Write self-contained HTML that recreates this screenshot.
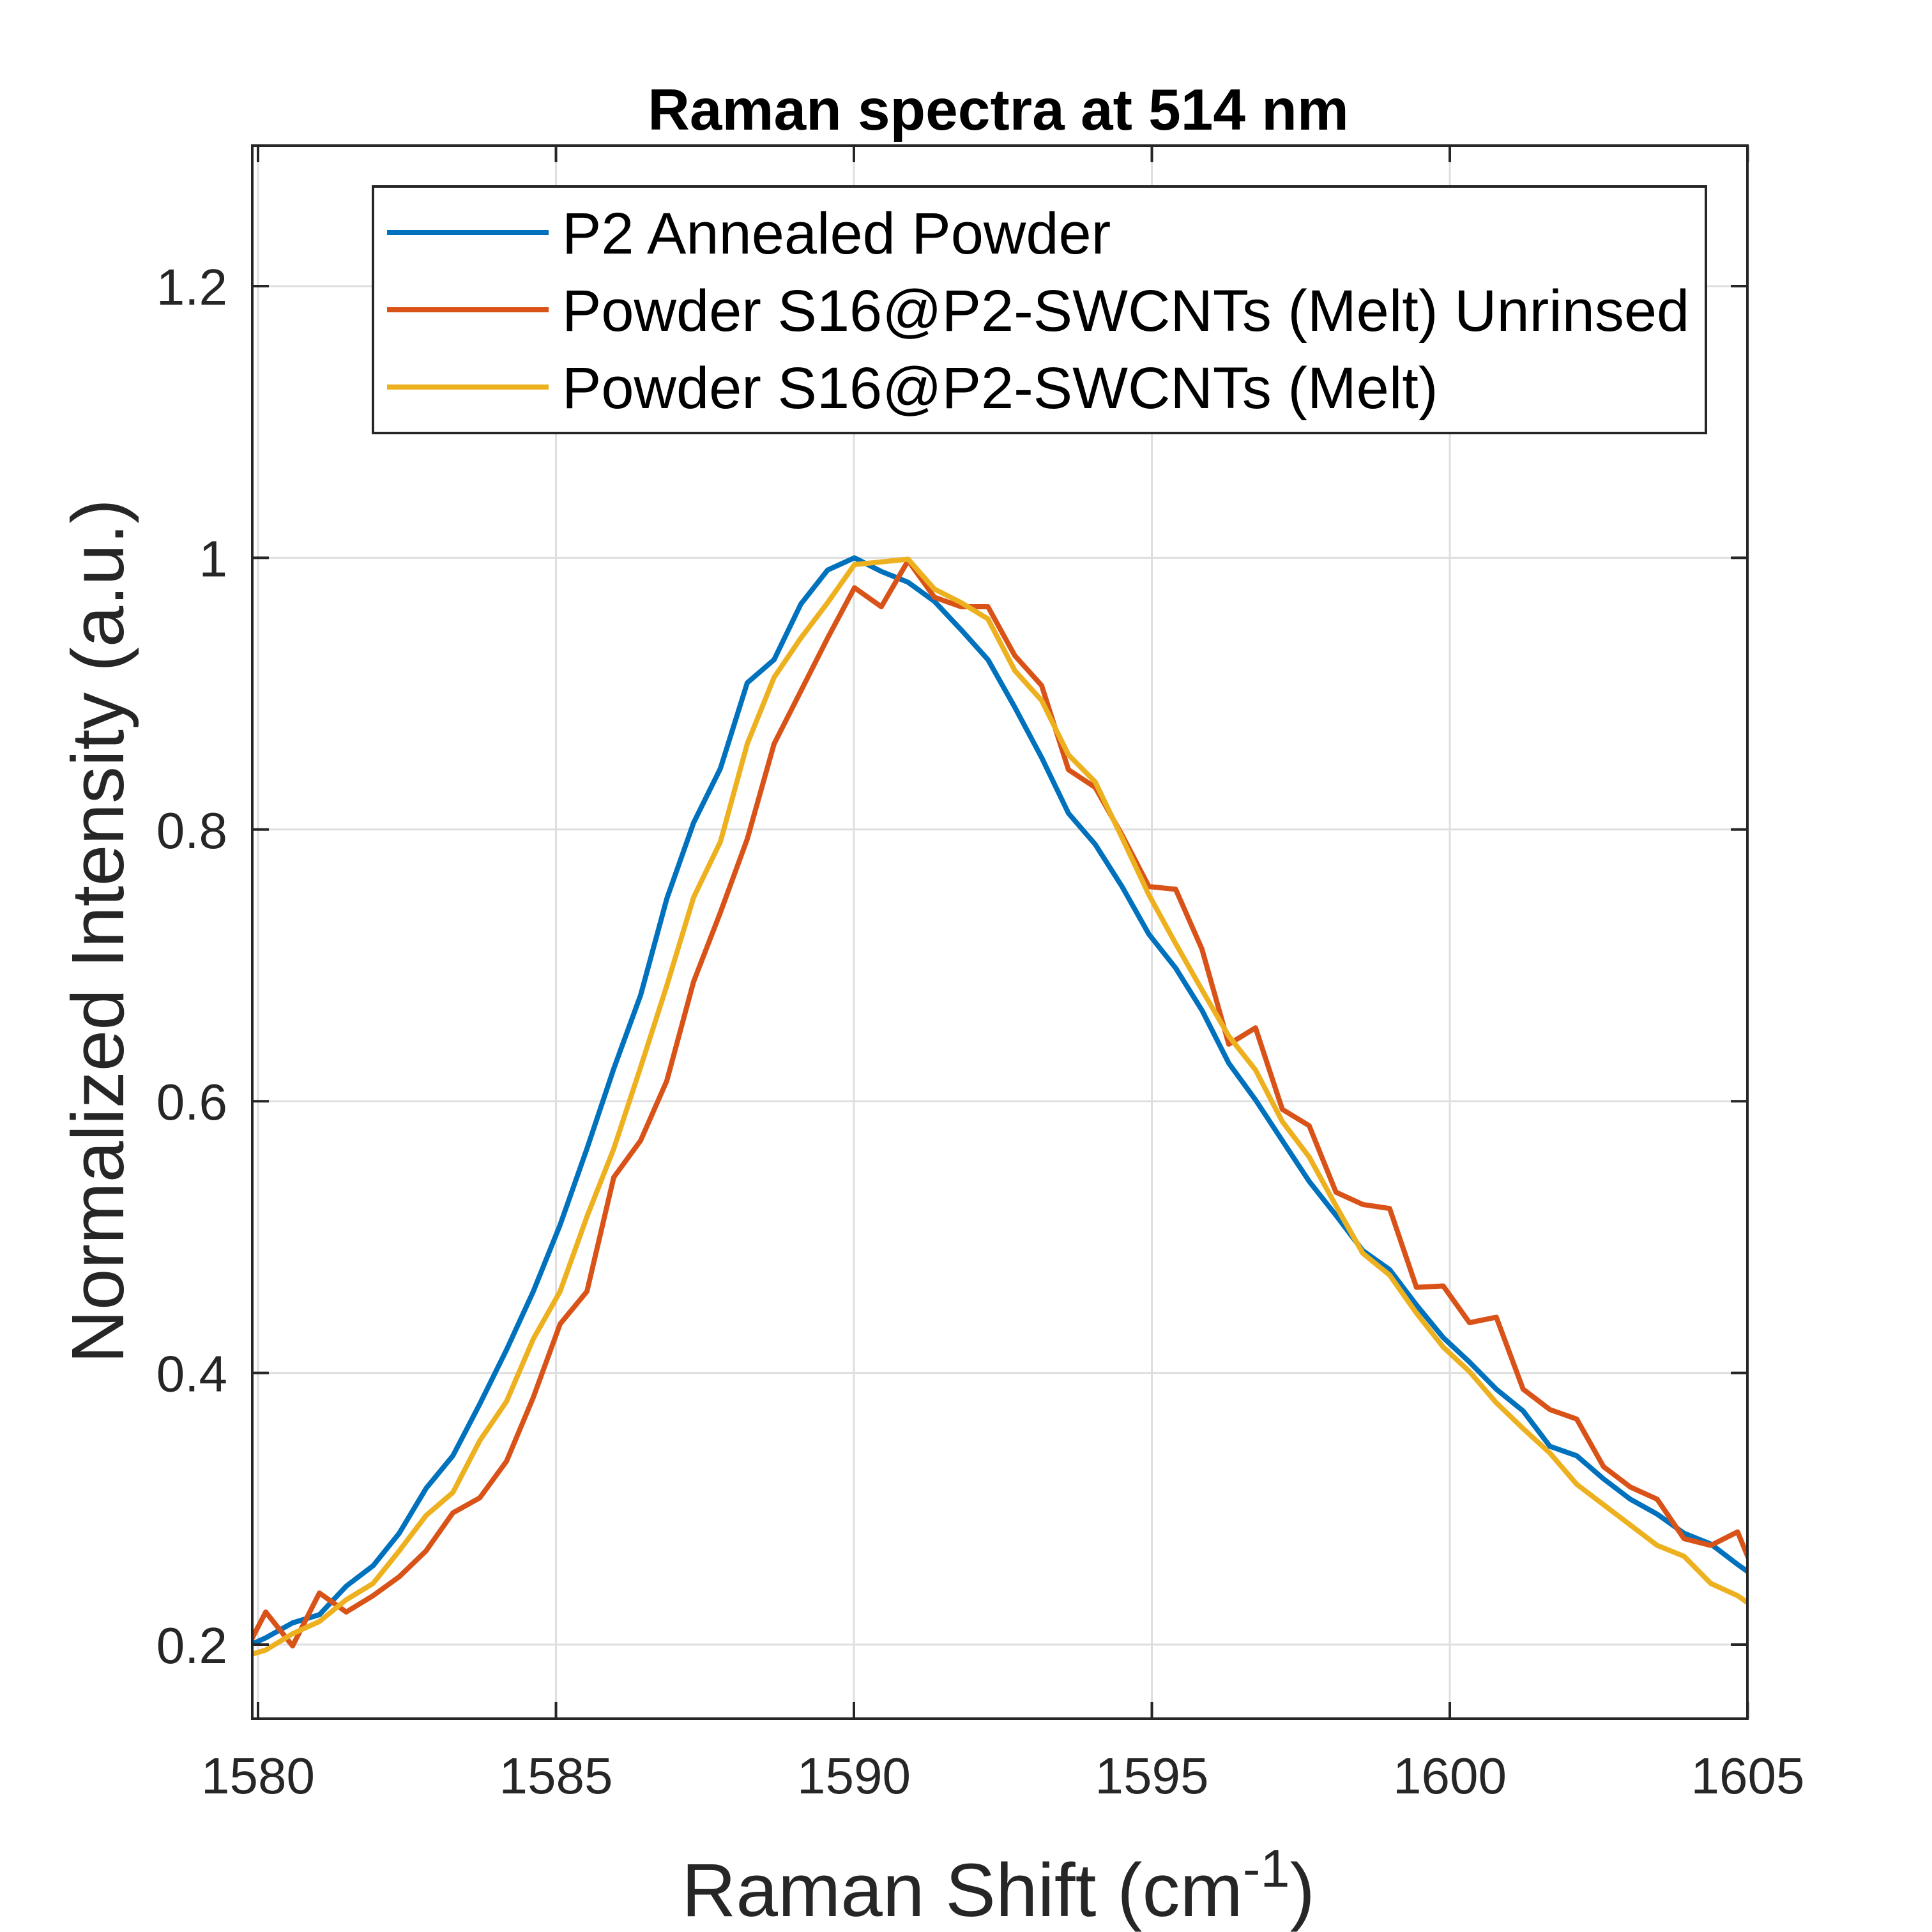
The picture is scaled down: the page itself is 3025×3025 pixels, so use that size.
<!DOCTYPE html>
<html><head><meta charset="utf-8"><style>
html,body{margin:0;padding:0;background:#fff}
svg{display:block}
text{font-family:"Liberation Sans",Arial,sans-serif;fill:#262626}
</style></head><body>
<svg id="chart" width="3025" height="3025" viewBox="0 0 3025 3025" xmlns="http://www.w3.org/2000/svg">
<rect x="0" y="0" width="3025" height="3025" fill="#fff"/>
<defs><clipPath id="plotclip"><rect x="395" y="228" width="2341" height="2463"/></clipPath></defs>
<g id="grid"></g>
<g id="series" clip-path="url(#plotclip)"></g>
<rect x="395" y="228" width="2341" height="2463" fill="none" stroke="#262626" stroke-width="4"/>
<g id="ticks"></g>
<text x="1563" y="203" text-anchor="middle" font-size="91" font-weight="bold" style="fill:#000">Raman spectra at 514 nm</text>
<text x="1563" y="3000" text-anchor="middle" font-size="118">Raman Shift (cm<tspan dy="-46" font-size="83">-1</tspan><tspan dy="46">)</tspan></text>
<text x="0" y="0" transform="translate(193,1458) rotate(-90)" text-anchor="middle" font-size="116">Normalized Intensity (a.u.)</text>
<g>
<rect x="584" y="292" width="2087" height="386" fill="#fff" stroke="#262626" stroke-width="4"/>
<g><line x1="606" y1="364" x2="859" y2="364" stroke="#0072BD" stroke-width="8"/><text x="880" y="397" font-size="92" style="fill:#000">P2 Annealed Powder</text></g>
<g><line x1="606" y1="485" x2="859" y2="485" stroke="#D95319" stroke-width="8"/><text x="880" y="518" font-size="92" style="fill:#000">Powder S16@P2-SWCNTs (Melt) Unrinsed</text></g>
<g><line x1="606" y1="606" x2="859" y2="606" stroke="#EDB120" stroke-width="8"/><text x="880" y="639" font-size="92" style="fill:#000">Powder S16@P2-SWCNTs (Melt)</text></g>
</g>
</svg>
<script>
const xValues = [1579.68,1580.13,1580.58,1581.03,1581.48,1581.93,1582.37,1582.82,1583.27,1583.72,1584.17,1584.62,1585.07,1585.52,1585.97,1586.42,1586.86,1587.31,1587.76,1588.21,1588.66,1589.11,1589.56,1590.01,1590.46,1590.91,1591.35,1591.80,1592.25,1592.70,1593.15,1593.60,1594.05,1594.50,1594.95,1595.40,1595.84,1596.29,1596.74,1597.19,1597.64,1598.09,1598.54,1598.99,1599.44,1599.89,1600.33,1600.78,1601.23,1601.68,1602.13,1602.58,1603.03,1603.48,1603.93,1604.38,1604.83,1605.28];
const blueValues = [0.196,0.205,0.216,0.222,0.243,0.258,0.282,0.315,0.339,0.377,0.417,0.460,0.509,0.565,0.624,0.678,0.749,0.805,0.845,0.908,0.925,0.966,0.991,1.000,0.990,0.982,0.968,0.947,0.925,0.890,0.853,0.812,0.789,0.758,0.723,0.698,0.667,0.628,0.601,0.571,0.541,0.516,0.490,0.476,0.450,0.426,0.408,0.388,0.372,0.346,0.339,0.322,0.307,0.296,0.282,0.274,0.259,0.245];
const orangeValues = [0.186,0.224,0.199,0.238,0.224,0.236,0.250,0.269,0.297,0.308,0.335,0.382,0.436,0.460,0.544,0.571,0.615,0.688,0.739,0.793,0.863,0.902,0.941,0.978,0.964,0.998,0.971,0.964,0.964,0.928,0.906,0.844,0.831,0.796,0.758,0.756,0.712,0.642,0.654,0.594,0.582,0.533,0.524,0.521,0.463,0.464,0.437,0.441,0.388,0.373,0.366,0.331,0.316,0.307,0.278,0.273,0.283,0.235];
const yellowValues = [0.190,0.196,0.208,0.217,0.233,0.245,0.269,0.295,0.312,0.350,0.379,0.425,0.460,0.515,0.565,0.625,0.685,0.750,0.791,0.863,0.912,0.941,0.967,0.995,0.997,0.999,0.977,0.967,0.955,0.917,0.895,0.855,0.835,0.794,0.752,0.716,0.682,0.648,0.623,0.585,0.559,0.523,0.488,0.472,0.444,0.419,0.401,0.378,0.359,0.341,0.318,0.303,0.288,0.273,0.265,0.245,0.236,0.222];
const xTicks = [1580,1585,1590,1595,1600,1605];
const yTicks = [0.2,0.4,0.6,0.8,1.0,1.2];
const xTickLabels = ["1580","1585","1590","1595","1600","1605"];
const yTickLabels = ["0.2","0.4","0.6","0.8","1","1.2"];

const NS = "http://www.w3.org/2000/svg";
const L = 395, R = 2736, T = 228, B = 2691;
function xs(v){ return 404 + (v - 1580) * 93.3; }
function ys(v){ return 2575 - (v - 0.2) * 2127; }
function mk(tag, attrs, parent){ const e = document.createElementNS(NS, tag); for (const k in attrs) e.setAttribute(k, attrs[k]); parent.appendChild(e); return e; }

const grid = document.getElementById('grid');
const ticks = document.getElementById('ticks');
const series = document.getElementById('series');
const svg = document.getElementById('chart');

xTicks.forEach((t, i) => {
  const x = xs(t);
  const g = mk('line', {x1:x, y1:T, x2:x, y2:B, stroke:'#dfdfdf', 'stroke-width':3}, grid);
  
  
  const tb = mk('path', {d:`M${x},${B} v-26 M${x},${T} v26`, stroke:'#262626', 'stroke-width':4, fill:'none'}, ticks);
  
  
  const lb = mk('text', {x:x, y:2808, 'text-anchor':'middle', 'font-size':80}, svg);
  lb.textContent = xTickLabels[i];
  
  
});
yTicks.forEach((t, i) => {
  const y = ys(t);
  const g = mk('line', {x1:L, y1:y, x2:R, y2:y, stroke:'#dfdfdf', 'stroke-width':3}, grid);
  
  
  const tb = mk('path', {d:`M${L},${y} h26 M${R},${y} h-26`, stroke:'#262626', 'stroke-width':4, fill:'none'}, ticks);
  
  
  const lb = mk('text', {x:356, y:y + 29, 'text-anchor':'end', 'font-size':80}, svg);
  lb.textContent = yTickLabels[i];
  
  
});

function drawSeries(vals, color, name){
  const d = vals.map((v, i) => (i ? 'L' : 'M') + xs(xValues[i]).toFixed(1) + ',' + ys(v).toFixed(1)).join(' ');
  const p = mk('path', {d:d, stroke:color, 'stroke-width':8, fill:'none', 'stroke-linejoin':'round'}, series);
  
  
}
drawSeries(blueValues, '#0072BD', 'series-p2-annealed-powder');
drawSeries(orangeValues, '#D95319', 'series-melt-unrinsed');
drawSeries(yellowValues, '#EDB120', 'series-melt');
</script>
</body></html>
